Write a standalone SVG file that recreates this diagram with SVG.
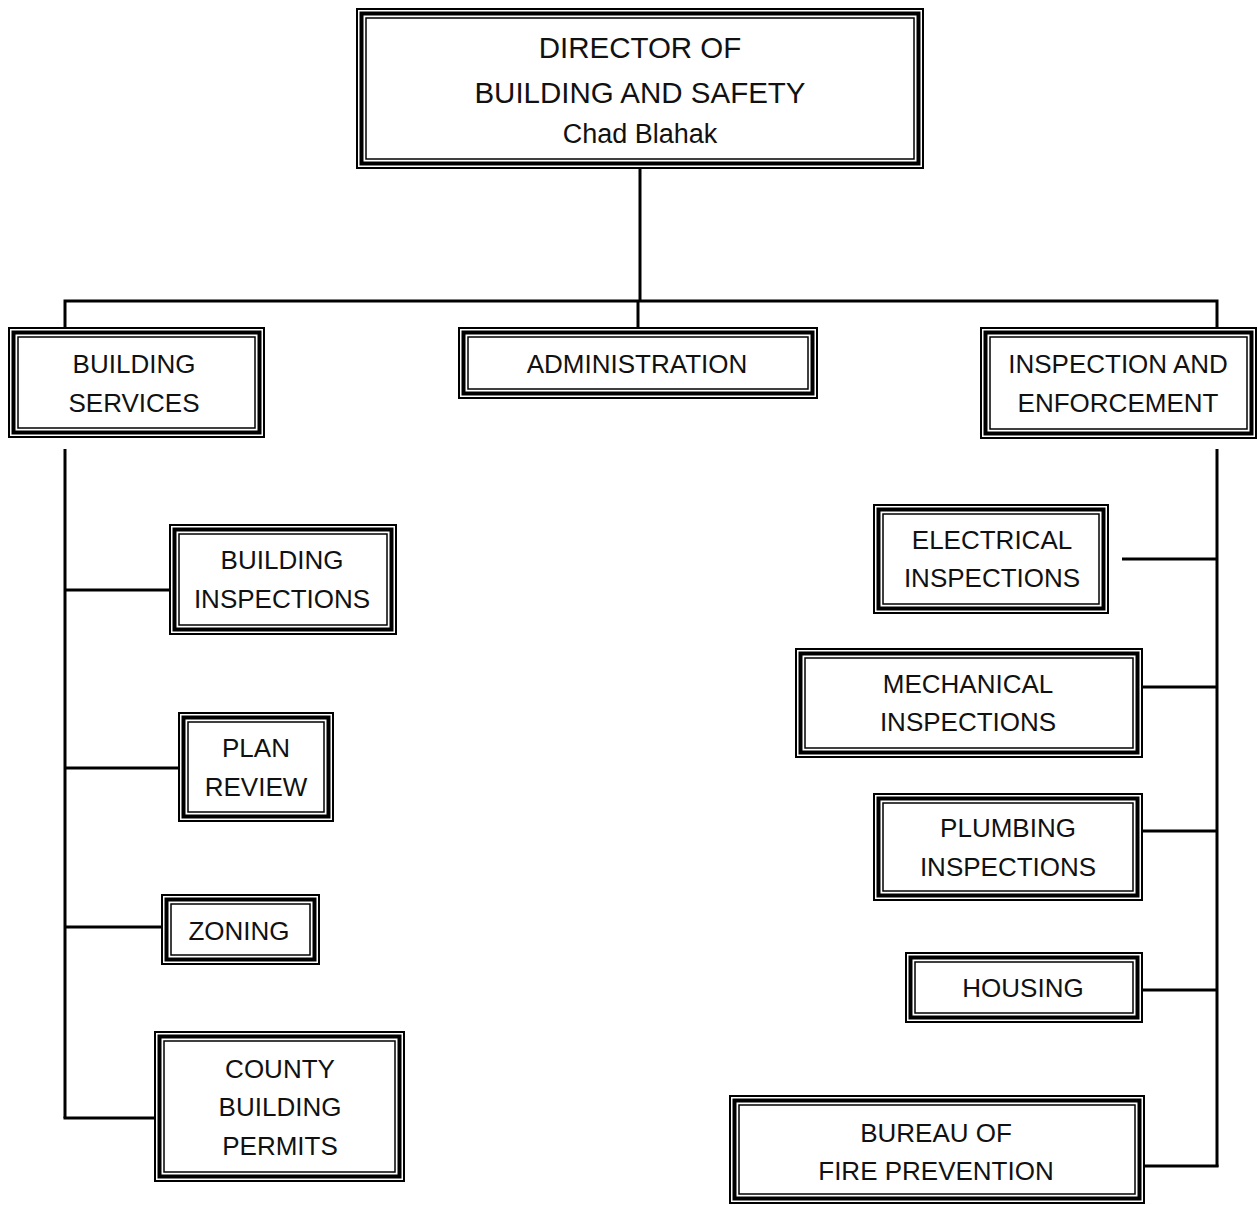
<svg xmlns="http://www.w3.org/2000/svg" width="1258" height="1205" viewBox="0 0 1258 1205">
<style>
.o{fill:#fff;stroke:#000;stroke-width:2}
.m{fill:none;stroke:#000;stroke-width:4}
.i{fill:none;stroke:#000;stroke-width:1.5}
.t{font-family:"Liberation Sans",Arial,sans-serif;font-size:26px;fill:#111;text-anchor:middle}
.big{font-size:29.5px}
.sub{font-size:27px}
.c{fill:none;stroke:#000;stroke-width:3}
</style>
<rect width="1258" height="1205" fill="#fff"/>
<g id="connectors">
<polyline class="c" points="640,169 640,301"/>
<polyline class="c" points="65,327 65,301 1217,301 1217,327"/>
<polyline class="c" points="638,301 638,327"/>
<polyline class="c" points="65,449 65,1118"/>
<line class="c" x1="65" y1="590" x2="170" y2="590"/>
<line class="c" x1="65" y1="768" x2="179" y2="768"/>
<line class="c" x1="65" y1="927" x2="162" y2="927"/>
<line class="c" x1="63.5" y1="1118" x2="155" y2="1118"/>
<polyline class="c" points="1217,449 1217,1167"/>
<line class="c" x1="1122" y1="559" x2="1217" y2="559"/>
<line class="c" x1="1142" y1="687" x2="1217" y2="687"/>
<line class="c" x1="1142" y1="831" x2="1217" y2="831"/>
<line class="c" x1="1142" y1="990" x2="1217" y2="990"/>
<line class="c" x1="1143" y1="1166" x2="1218.5" y2="1166"/>
</g>
<g id="director">
<rect class="o" x="357" y="9" width="566" height="159"/>
<rect class="m" x="361.5" y="13.5" width="557" height="150"/>
<rect class="i" x="366" y="18" width="548" height="141"/>
<text class="t big" x="640" y="58">DIRECTOR OF</text>
<text class="t big" x="640" y="103">BUILDING AND SAFETY</text>
<text class="t sub" x="640" y="143">Chad Blahak</text>
</g>
<g id="building-services">
<rect class="o" x="9" y="328" width="255" height="109"/>
<rect class="m" x="13.5" y="332.5" width="246" height="100"/>
<rect class="i" x="18" y="337" width="237" height="91"/>
<text class="t" x="134" y="373">BUILDING</text>
<text class="t" x="134" y="412">SERVICES</text>
</g>
<g id="administration">
<rect class="o" x="459" y="328" width="358" height="70"/>
<rect class="m" x="463.5" y="332.5" width="349" height="61"/>
<rect class="i" x="468" y="337" width="340" height="52"/>
<text class="t" x="637" y="373">ADMINISTRATION</text>
</g>
<g id="inspection-enforcement">
<rect class="o" x="981" y="328" width="275" height="110"/>
<rect class="m" x="985.5" y="332.5" width="266" height="101"/>
<rect class="i" x="990" y="337" width="257" height="92"/>
<text class="t" x="1118" y="373">INSPECTION AND</text>
<text class="t" x="1118" y="412">ENFORCEMENT</text>
</g>
<g id="building-inspections">
<rect class="o" x="170" y="525" width="226" height="109"/>
<rect class="m" x="174.5" y="529.5" width="217" height="100"/>
<rect class="i" x="179" y="534" width="208" height="91"/>
<text class="t" x="282" y="569">BUILDING</text>
<text class="t" x="282" y="608">INSPECTIONS</text>
</g>
<g id="plan-review">
<rect class="o" x="179" y="713" width="154" height="108"/>
<rect class="m" x="183.5" y="717.5" width="145" height="99"/>
<rect class="i" x="188" y="722" width="136" height="90"/>
<text class="t" x="256" y="757">PLAN</text>
<text class="t" x="256" y="796">REVIEW</text>
</g>
<g id="zoning">
<rect class="o" x="162" y="895" width="157" height="69"/>
<rect class="m" x="166.5" y="899.5" width="148" height="60"/>
<rect class="i" x="171" y="904" width="139" height="51"/>
<text class="t" x="239" y="940">ZONING</text>
</g>
<g id="county-building-permits">
<rect class="o" x="155" y="1032" width="249" height="149"/>
<rect class="m" x="159.5" y="1036.5" width="240" height="140"/>
<rect class="i" x="164" y="1041" width="231" height="131"/>
<text class="t" x="280" y="1078">COUNTY</text>
<text class="t" x="280" y="1116">BUILDING</text>
<text class="t" x="280" y="1155">PERMITS</text>
</g>
<g id="electrical-inspections">
<rect class="o" x="874" y="505" width="234" height="108"/>
<rect class="m" x="878.5" y="509.5" width="225" height="99"/>
<rect class="i" x="883" y="514" width="216" height="90"/>
<text class="t" x="992" y="549">ELECTRICAL</text>
<text class="t" x="992" y="587">INSPECTIONS</text>
</g>
<g id="mechanical-inspections">
<rect class="o" x="796" y="649" width="346" height="108"/>
<rect class="m" x="800.5" y="653.5" width="337" height="99"/>
<rect class="i" x="805" y="658" width="328" height="90"/>
<text class="t" x="968" y="693">MECHANICAL</text>
<text class="t" x="968" y="731">INSPECTIONS</text>
</g>
<g id="plumbing-inspections">
<rect class="o" x="874" y="794" width="268" height="106"/>
<rect class="m" x="878.5" y="798.5" width="259" height="97"/>
<rect class="i" x="883" y="803" width="250" height="88"/>
<text class="t" x="1008" y="837">PLUMBING</text>
<text class="t" x="1008" y="876">INSPECTIONS</text>
</g>
<g id="housing">
<rect class="o" x="906" y="953" width="236" height="69"/>
<rect class="m" x="910.5" y="957.5" width="227" height="60"/>
<rect class="i" x="915" y="962" width="218" height="51"/>
<text class="t" x="1023" y="997">HOUSING</text>
</g>
<g id="bureau-fire-prevention">
<rect class="o" x="730" y="1096" width="414" height="107"/>
<rect class="m" x="734.5" y="1100.5" width="405" height="98"/>
<rect class="i" x="739" y="1105" width="396" height="89"/>
<text class="t" x="936" y="1142">BUREAU OF</text>
<text class="t" x="936" y="1180">FIRE PREVENTION</text>
</g>
</svg>
